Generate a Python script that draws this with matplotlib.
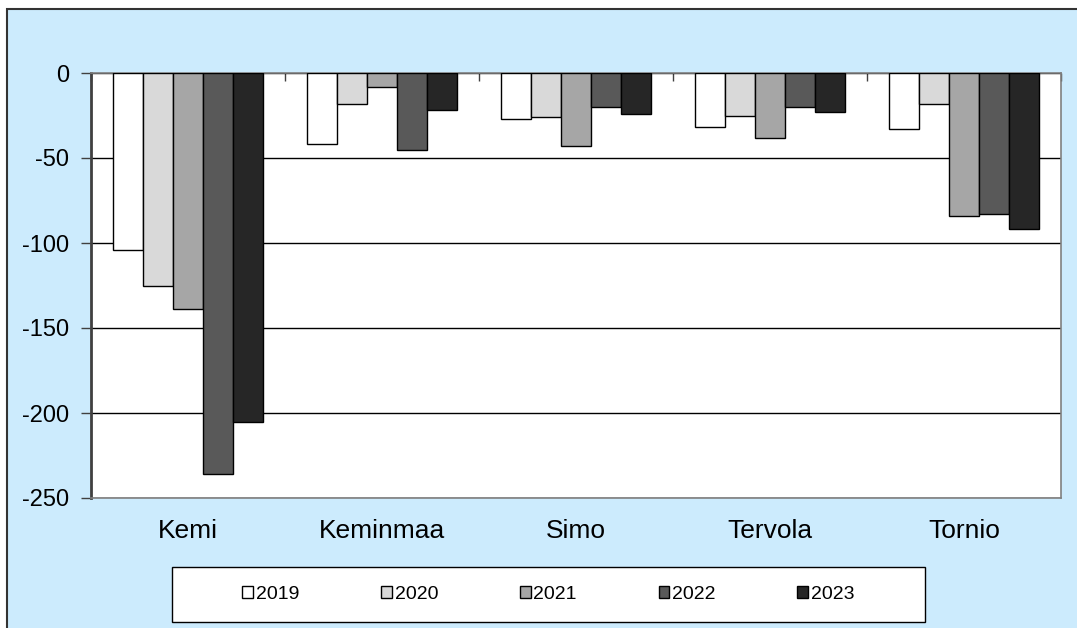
import numpy as np
import matplotlib.pyplot as plt
from matplotlib.patches import Rectangle

plt.rcParams['font.family'] = ['Liberation Sans', 'DejaVu Sans']

municipalities = ['Kemi', 'Keminmaa', 'Simo', 'Tervola', 'Tornio']
years = ['2019', '2020', '2021', '2022', '2023']
values_2019 = [-104, -42, -27, -32, -33]
values_2020 = [-125, -18, -26, -25, -18]
values_2021 = [-139, -8, -43, -38, -84]
values_2022 = [-236, -45, -20, -20, -83]
values_2023 = [-205, -22, -24, -23, -92]
series = [values_2019, values_2020, values_2021, values_2022, values_2023]
colors = ['#FFFFFF', '#D9D9D9', '#A6A6A6', '#595959', '#262626']
yticks = [0, -50, -100, -150, -200, -250]

W, H = 1077, 628
fig = plt.figure(figsize=(W / 100, H / 100), dpi=100)
fig.patch.set_facecolor('white')

# light blue chart area with dark border on left/top
fig.add_artist(Rectangle((7 / W, -0.1), 1.2, 1 - 9 / H + 0.1, transform=fig.transFigure,
                         facecolor='#CCEBFD', edgecolor='#333333', linewidth=1.5, zorder=0))

ax = fig.add_axes([91 / W, 1 - 498 / H, (1061 - 91) / W, (498 - 73) / H])
ax.set_facecolor('white')

x = np.arange(len(municipalities))
bw = 0.1546
for i, vals in enumerate(series):
    ax.bar(x + (i - 2) * bw, vals, width=bw, color=colors[i], edgecolor='black',
           linewidth=1.0, label=years[i], zorder=3)

ax.set_xlim(-0.5, len(municipalities) - 0.5)
ax.set_ylim(-250, 0)
ax.set_yticks(yticks)
ax.set_yticklabels([str(t) for t in yticks], fontsize=17)
ax.yaxis.grid(True, color='black', linewidth=1.0, zorder=1)
ax.set_axisbelow(True)

ax.set_xticks(x)
ax.set_xticklabels(municipalities, fontsize=19)
ax.tick_params(axis='x', which='major', length=0, pad=15)
ax.set_xticks(np.arange(len(municipalities) + 1) - 0.5, minor=True)
ax.tick_params(axis='x', which='minor', bottom=False, top=True, direction='in',
               length=6, color='#404040', width=1)
ax.tick_params(axis='y', length=7, color='#404040', width=1, pad=9)

for side in ['top', 'right', 'bottom']:
    ax.spines[side].set_color('#808080')
    ax.spines[side].set_linewidth(1.2)
ax.spines['left'].set_color('#404040')
ax.spines['left'].set_linewidth(2)

# legend box
fig.add_artist(Rectangle((172 / W, 1 - 622 / H), (925 - 172) / W, (622 - 567) / H,
                         transform=fig.transFigure, facecolor='white',
                         edgecolor='black', linewidth=1, zorder=1))
fig.legend(loc='center', bbox_to_anchor=((172 + 925) / 2 / W, 1 - (567 + 622) / 2 / H),
           ncol=5, frameon=False, fontsize=14, handlelength=0.55, handleheight=0.55,
           handletextpad=0.15, columnspacing=4.2)

fig.savefig('out.png', dpi=100)
